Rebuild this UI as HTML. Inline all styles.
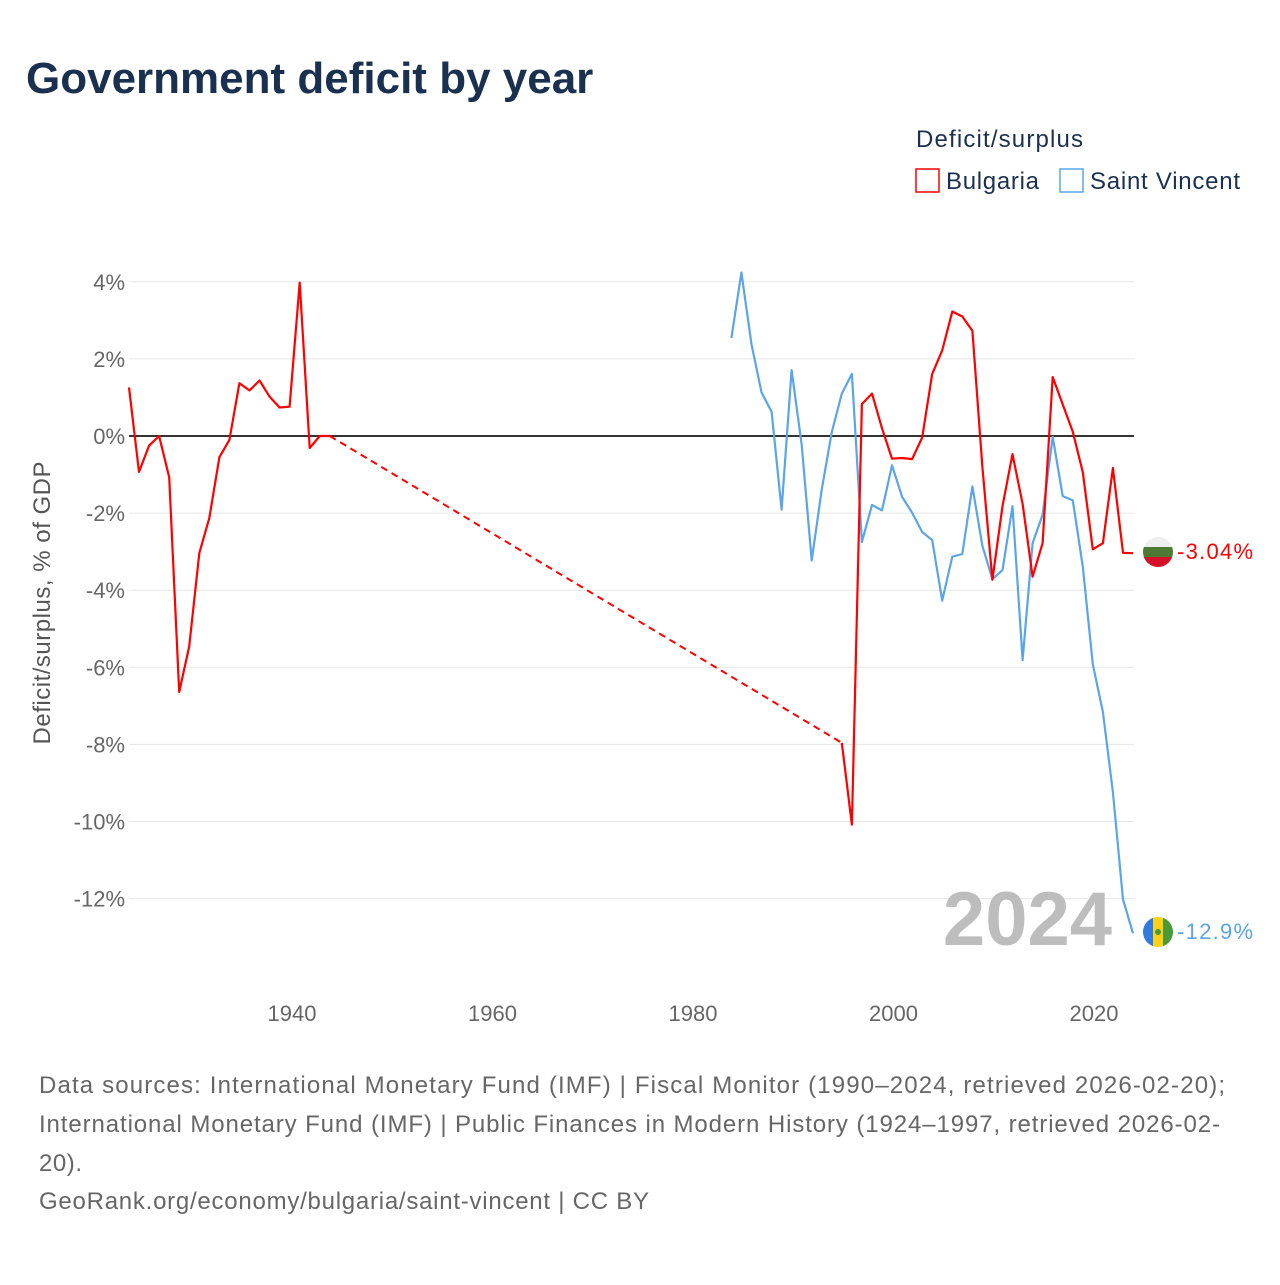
<!DOCTYPE html>
<html><head><meta charset="utf-8"><style>
body{margin:0;background:#fff;font-family:"Liberation Sans",sans-serif;}
svg text{font-family:"Liberation Sans",sans-serif;}
</style></head><body>
<svg width="1280" height="1280" viewBox="0 0 1280 1280">
<text x="26" y="93" font-size="44" font-weight="bold" fill="#1a3050">Government deficit by year</text>
<g>
<text x="916" y="147" font-size="24" fill="#1a3050" textLength="167">Deficit/surplus</text>
<rect x="916" y="169" width="23" height="23" fill="none" stroke="#f00" stroke-width="1.5"/>
<text x="946" y="189" font-size="24" fill="#1a3050" textLength="93">Bulgaria</text>
<rect x="1060" y="169" width="23" height="23" fill="none" stroke="#5aa5ea" stroke-width="1.5"/>
<text x="1090" y="189" font-size="24" fill="#1a3050" textLength="150">Saint Vincent</text>
</g>
<text transform="translate(50,603) rotate(-90)" text-anchor="middle" font-size="24" fill="#555" textLength="283">Deficit/surplus, % of GDP</text>
<g id="grid"></g>
<text x="1112" y="945" text-anchor="end" font-size="76" font-weight="bold" fill="#bdbdbd">2024</text>
<g id="series"></g>
<g>
<clipPath id="cb"><circle cx="1158" cy="552" r="15"/></clipPath>
<g clip-path="url(#cb)"><rect x="1143" y="537" width="30" height="10" fill="#eee"/><rect x="1143" y="547" width="30" height="10" fill="#4c7a34"/><rect x="1143" y="557" width="30" height="10" fill="#d61028"/></g>
<text x="1177" y="559" font-size="22" fill="#f00" textLength="76">-3.04%</text>
</g>
<g>
<clipPath id="cv"><circle cx="1158" cy="932" r="15"/></clipPath>
<g clip-path="url(#cv)"><rect x="1143" y="917" width="10" height="30" fill="#2f7be0"/><rect x="1153" y="917" width="10" height="30" fill="#fcd116"/><rect x="1163" y="917" width="10" height="30" fill="#4a9a3a"/><circle cx="1158" cy="932" r="3" fill="#4a9a3a"/></g>
<text x="1177" y="939" font-size="22" fill="#5aa5ea" textLength="76">-12.9%</text>
</g>
<g font-size="24" fill="#666">
<text x="39" y="1093" textLength="1186">Data sources: International Monetary Fund (IMF) | Fiscal Monitor (1990–2024, retrieved 2026-02-20);</text>
<text x="39" y="1132" textLength="1181">International Monetary Fund (IMF) | Public Finances in Modern History (1924–1997, retrieved 2026-02-</text>
<text x="39" y="1171" textLength="43">20).</text>
<text x="39" y="1209" textLength="610">GeoRank.org/economy/bulgaria/saint-vincent | CC BY</text>
</g>
</svg>
<script>
const yTicks=[4,2,0,-2,-4,-6,-8,-10,-12];
const xTicks=[1940,1960,1980,2000,2020];
const bgYears1=[1924,1925,1926,1927,1928,1929,1930,1931,1932,1933,1934,1935,1936,1937,1938,1939,1940,1941,1942,1943,1944];
const bgVals1=[1.26,-0.93,-0.25,0,-1.07,-6.64,-5.46,-3.04,-2.13,-0.55,-0.1,1.37,1.18,1.44,1.02,0.74,0.76,3.98,-0.31,0,0];
const bgYears2=[1995,1996,1997,1998,1999,2000,2001,2002,2003,2004,2005,2006,2007,2008,2009,2010,2011,2012,2013,2014,2015,2016,2017,2018,2019,2020,2021,2022,2023,2024];
const bgVals2=[-7.96,-10.08,0.83,1.1,0.2,-0.59,-0.57,-0.6,-0.04,1.61,2.22,3.23,3.1,2.73,-0.81,-3.73,-1.82,-0.47,-1.76,-3.65,-2.78,1.53,0.82,0.11,-0.94,-2.94,-2.78,-0.83,-3.03,-3.04];
const vcYears=[1984,1985,1986,1987,1988,1989,1990,1991,1992,1993,1994,1995,1996,1997,1998,1999,2000,2001,2002,2003,2004,2005,2006,2007,2008,2009,2010,2011,2012,2013,2014,2015,2016,2017,2018,2019,2020,2021,2022,2023,2024];
const vcVals=[2.54,4.24,2.38,1.13,0.63,-1.91,1.71,-0.23,-3.23,-1.38,0.1,1.1,1.61,-2.75,-1.79,-1.93,-0.76,-1.58,-1.99,-2.49,-2.7,-4.27,-3.13,-3.06,-1.31,-2.85,-3.71,-3.48,-1.82,-5.81,-2.78,-2.04,-0.02,-1.56,-1.67,-3.39,-5.92,-7.16,-9.24,-12.02,-12.9];
const NS='http://www.w3.org/2000/svg';
const X=y=>129+(y-1924)*10.04;
const Y=v=>436-v*38.55;
const L=129,R=1134;
function mk(t,a,p){const e=document.createElementNS(NS,t);for(const k in a)e.setAttribute(k,a[k]);p.appendChild(e);return e;}
const grid=document.getElementById('grid');
yTicks.forEach(t=>{
 const l=mk('line',{x1:L,x2:R,y1:Y(t),y2:Y(t),stroke:'#e6e6e6','stroke-width':1},grid);
 
 
 const tx=mk('text',{x:125,y:Y(t)+8,'text-anchor':'end','font-size':22,fill:'#666'},grid);
 tx.textContent=t+'%';
 
 
});
xTicks.forEach(t=>{
 const tx=mk('text',{x:292+(t-1940)*10.025,y:1021,'text-anchor':'middle','font-size':22,fill:'#666'},grid);
 tx.textContent=t;
 
 
});
const zl=mk('line',{x1:L,x2:R,y1:Y(0),y2:Y(0),stroke:'#333','stroke-width':2},grid);


const S=document.getElementById('series');
function path(ys,vs){return ys.map((y,i)=>(i?'L':'M')+X(y).toFixed(1)+','+Y(vs[i]).toFixed(1)).join('');}
const g=mk('line',{x1:X(bgYears1[bgYears1.length-1]),y1:Y(bgVals1[bgVals1.length-1]),x2:X(bgYears2[0]),y2:Y(bgVals2[0]),stroke:'#f00','stroke-width':2,'stroke-dasharray':'7,5'},S);


const p1=mk('path',{d:path(bgYears1,bgVals1),fill:'none',stroke:'#f00','stroke-width':2.2,'stroke-linejoin':'round'},S);


const p3=mk('path',{d:path(vcYears,vcVals),fill:'none',stroke:'#5aa5ea','stroke-width':2.2,'stroke-linejoin':'round'},S);


const p2=mk('path',{d:path(bgYears2,bgVals2),fill:'none',stroke:'#f00','stroke-width':2.2,'stroke-linejoin':'round'},S);


</script>
</body></html>
